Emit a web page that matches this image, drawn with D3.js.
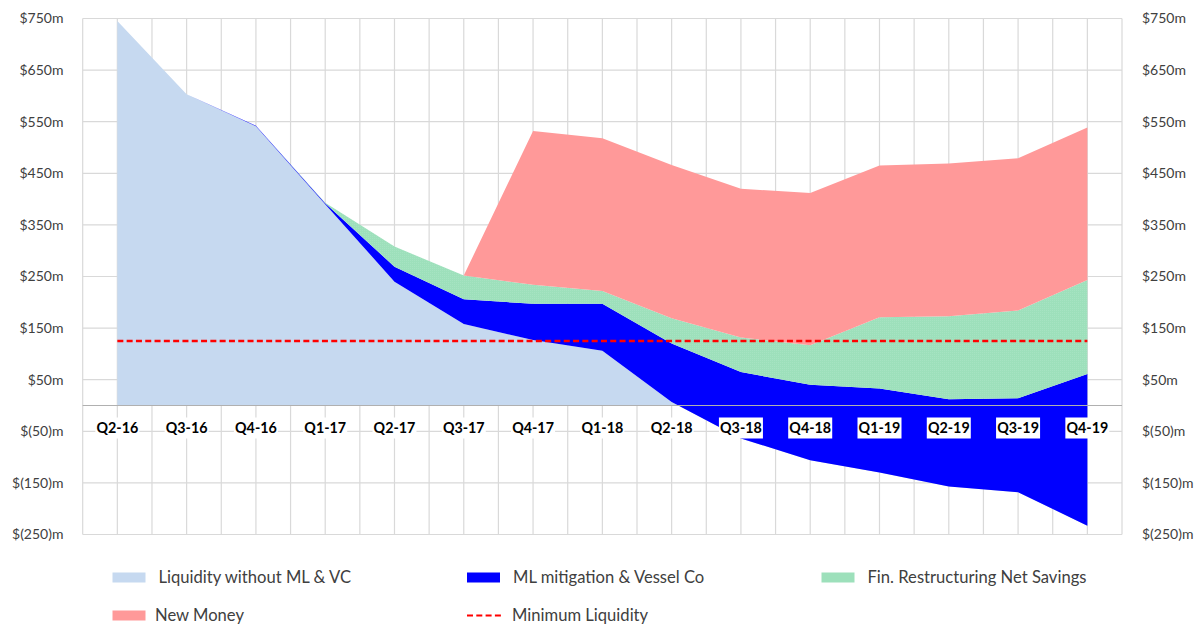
<!DOCTYPE html>
<html>
<head>
<meta charset="utf-8">
<script src="https://cdn.jsdelivr.net/npm/d3@7"></script>
<style>
  html, body { margin: 0; padding: 0; background: #ffffff; }
  svg { display: block; font-family: Lato, "Open Sans", sans-serif; }
</style>
</head>
<body>
<svg id="chart" width="1194" height="626"></svg>
<script>
// ---- data ----
const categories = ['Q2-16','Q3-16','Q4-16','Q1-17','Q2-17','Q3-17','Q4-17','Q1-18','Q2-18','Q3-18','Q4-18','Q1-19','Q2-19','Q3-19','Q4-19'];
const liquidity      = [745, 603, 541, 390, 240, 158, 127, 106,   7,  -64, -106, -130, -157, -168, -233];
const mlMitigation   = [  0,   0,   1,   2,  29,  48,  70,  91, 113,  129,  146,  163,  169,  182,  294];
const finRestructure = [  0,   0,   0,   1,  39,  46,  37,  25,  49,   67,   77,  138,  161,  170,  182];
const newMoney       = [  0,   0,   0,   0,   0,   0, 298, 296, 297,  288,  295,  294,  296,  295,  296];
const minLiquidity   = [125, 125, 125, 125, 125, 125, 125, 125, 125,  125,  125,  125,  125,  125,  125];
const yTicks = [750, 650, 550, 450, 350, 250, 150, 50, -50, -150, -250];
const seriesNames = ['Liquidity without ML & VC', 'ML mitigation & Vessel Co', 'Fin. Restructuring Net Savings', 'New Money'];
const minName = 'Minimum Liquidity';

// ---- styles ----
const colors = ['#c6d9f0', '#0000ff', '#9de0bb', '#ff9999'];
const svg = d3.select('#chart');

const x = d3.scaleBand().domain(categories).range([82.7, 1122]).paddingInner(0).paddingOuter(0);
const cx = c => x(c) + x.bandwidth() / 2;
const y = d3.scaleLinear().domain([-250, 750]).range([534.5, 18.5]);

// gridlines
const grid = svg.append('g');
const vlines = [];
categories.forEach(c => { vlines.push(x(c)); vlines.push(cx(c)); });
vlines.push(x(categories[categories.length - 1]) + x.bandwidth());
grid.selectAll('line.v').data(vlines).join('line')
  .attr('x1', d => d).attr('x2', d => d)
  .attr('y1', y(750)).attr('y2', y(-250))
  .attr('stroke', '#d9d9d9').attr('stroke-width', 1.2);
grid.selectAll('line.h').data(yTicks).join('line')
  .attr('x1', 82.7).attr('x2', 1122)
  .attr('y1', d => y(d)).attr('y2', d => y(d))
  .attr('stroke', '#d9d9d9').attr('stroke-width', 1.2);

// stacked data
const rows = categories.map((c, i) => ({
  cat: c, s0: liquidity[i], s1: mlMitigation[i], s2: finRestructure[i], s3: newMoney[i]
}));
const stack = d3.stack().keys(['s0', 's1', 's2', 's3']).offset(d3.stackOffsetNone);
const stacked = stack(rows);

const area = d3.area()
  .x(d => cx(d.data.cat))
  .y0(d => y(d[0]))
  .y1(d => y(d[1]));

// light dotted texture for green
const defs = svg.append('defs');
const pat = defs.append('pattern').attr('id', 'greenPat').attr('width', 2).attr('height', 2)
  .attr('patternUnits', 'userSpaceOnUse');
pat.append('rect').attr('width', 2).attr('height', 2).attr('fill', '#9de0bb');
pat.append('rect').attr('width', 1).attr('height', 1).attr('fill', '#a6e3c2');

svg.append('g').selectAll('path').data(stacked).join('path')
  .attr('d', area)
  .attr('fill', (d, i) => i === 2 ? 'url(#greenPat)' : colors[i]);

// zero axis line
svg.append('line')
  .attr('x1', 82.7).attr('x2', 1122)
  .attr('y1', y(0)).attr('y2', y(0))
  .attr('stroke', '#b0b0b0').attr('stroke-width', 1.2);

// minimum liquidity
const line = d3.line().x((d, i) => cx(categories[i])).y(d => y(d));
svg.append('path').datum(minLiquidity)
  .attr('d', line)
  .attr('fill', 'none').attr('stroke', '#ff0000').attr('stroke-width', 2.4)
  .attr('stroke-dasharray', '6,3.3');

// y axis labels (left & right)
const fmt = v => v < 0 ? `$(${Math.abs(v)})m` : `$${v}m`;
svg.append('g').selectAll('text').data(yTicks).join('text')
  .attr('x', 63.5).attr('y', d => y(d)).attr('dy', '0.35em')
  .attr('text-anchor', 'end').attr('font-size', 14).attr('fill', '#404040')
  .text(fmt);
svg.append('g').selectAll('text').data(yTicks).join('text')
  .attr('x', 1142).attr('y', d => y(d)).attr('dy', '0.35em')
  .attr('text-anchor', 'start').attr('font-size', 14).attr('fill', '#404040')
  .text(fmt);

// x axis labels with white boxes
const xl = svg.append('g').selectAll('g').data(categories).join('g')
  .attr('transform', d => `translate(${cx(d)},428)`);
xl.append('rect').attr('x', -22).attr('y', -10.5).attr('width', 44).attr('height', 21).attr('fill', '#ffffff');
xl.append('text').attr('text-anchor', 'middle').attr('dy', '0.36em')
  .attr('font-size', 14.3).attr('font-weight', 'bold').attr('fill', '#000000')
  .text(d => d);

// legend
const legendItems = [
  { name: seriesNames[0], type: 'rect', fill: colors[0], x: 112.5, y: 577.5 },
  { name: seriesNames[1], type: 'rect', fill: colors[1], x: 467, y: 577.5 },
  { name: seriesNames[2], type: 'rect', fill: colors[2], x: 821.5, y: 577.5 },
  { name: seriesNames[3], type: 'rect', fill: colors[3], x: 112.5, y: 615.5 },
  { name: minName, type: 'line', fill: '#ff0000', x: 467, y: 615.5 }
];
const lg = svg.append('g').selectAll('g').data(legendItems).join('g')
  .attr('transform', d => `translate(${d.x},${d.y})`);
lg.filter(d => d.type === 'rect').append('rect')
  .attr('x', 0).attr('y', -5).attr('width', 33).attr('height', 10).attr('fill', d => d.fill);
lg.filter(d => d.type === 'line').append('line')
  .attr('x1', 0).attr('x2', 34).attr('y1', 0).attr('y2', 0)
  .attr('stroke', '#ff0000').attr('stroke-width', 2.2).attr('stroke-dasharray', '6,3.3');
lg.append('text')
  .attr('x', d => d.type === 'line' ? 45 : (d.name === 'New Money' ? 42.5 : 46))
  .attr('dy', '0.35em').attr('font-size', 16.6).attr('fill', '#404040')
  .text(d => d.name);
</script>
</body>
</html>
